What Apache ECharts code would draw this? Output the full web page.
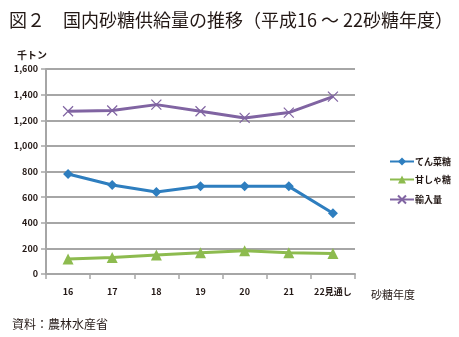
<!DOCTYPE html>
<html><head><meta charset="utf-8">
<script src="https://cdn.jsdelivr.net/npm/echarts@6/dist/echarts.min.js"></script>
<style>html,body{margin:0;padding:0;background:#fff}#c{width:459px;height:337px}</style>
</head><body><div id="c"></div>
<script>
const categories = ['16','17','18','19','20','21','22見通し'];
const tensai = [780, 695, 640, 684, 684, 684, 474];
const kansha = [118, 128, 148, 166, 182, 166, 160];
const yunyu = [1270, 1276, 1322, 1270, 1218, 1260, 1384];
const seriesNames = ['てん菜糖', '甘しゃ糖', '輸入量'];
const yTicks = [0, 200, 400, 600, 800, 1000, 1200, 1400, 1600];

const font = '"Noto Sans CJK JP", sans-serif';
const chart = echarts.init(document.getElementById('c'));
chart.setOption({
  animation: false,
  textStyle: { fontFamily: font },
  title: [
    { text: '図２　国内砂糖供給量の推移（平成16 ～ 22砂糖年度）', left: 4, top: 6,
      textStyle: { fontSize: 18, fontWeight: 'normal', color: '#231815', fontFamily: font } },
    { text: '千トン', left: 12, top: 45, textStyle: { fontSize: 10, fontWeight: 'bold', color: '#231815', fontFamily: font } },
    { text: '砂糖年度', left: 366, top: 284, textStyle: { fontSize: 11, fontWeight: 'normal', color: '#231815', fontFamily: font } },
    { text: '資料：農林水産省', left: 7, top: 313, textStyle: { fontSize: 12, fontWeight: 'normal', color: '#231815', fontFamily: font } }
  ],
  legend: {
    orient: 'vertical', left: 384, top: 152, itemGap: 9, itemWidth: 24, itemHeight: 10,
    data: seriesNames,
    textStyle: { fontSize: 9, fontWeight: 'bold', color: '#231815', padding: [0,0,0,-4] }
  },
  grid: { left: 46, top: 69, width: 309, height: 205 },
  xAxis: {
    type: 'category', data: categories, boundaryGap: true,
    axisLine: { lineStyle: { color: '#a6a6a6', width: 2 } },
    axisTick: { show: true, length: 5, interval: 0, lineStyle: { color: '#a6a6a6', width: 1.5 }, alignWithLabel: false },
    axisLabel: { interval: 0, fontSize: 9, fontWeight: 'bold', color: '#231815', margin: 13 }
  },
  yAxis: {
    type: 'value', min: 0, max: 1600, interval: 200,
    axisLine: { show: true, lineStyle: { color: '#a6a6a6', width: 2 } },
    axisTick: { show: true, length: 5, lineStyle: { color: '#a6a6a6', width: 1.5 } },
    splitLine: { lineStyle: { color: '#a6a6a6', width: 2 } },
    axisLabel: { fontSize: 9, fontWeight: 'bold', color: '#231815', margin: 8,
      formatter: v => yTicks.includes(v) ? v.toLocaleString('en-US') : '' }
  },
  series: [
    { name: seriesNames[0], type: 'line', data: tensai, symbol: 'diamond', symbolSize: 10,
      lineStyle: { color: '#2e7ebf', width: 3 }, itemStyle: { color: '#2e7ebf' } },
    { name: seriesNames[1], type: 'line', data: kansha, symbol: 'triangle', symbolSize: 11,
      lineStyle: { color: '#8dbb4f', width: 3 }, itemStyle: { color: '#8dbb4f' } },
    { name: seriesNames[2], type: 'line', data: yunyu,
      symbol: 'path://M0,0 L10,10 M10,0 L0,10', symbolSize: 10,
      lineStyle: { color: '#8064a2', width: 3 }, itemStyle: { color: 'none', borderColor: '#8064a2', borderWidth: 1.2 } }
  ]
});
</script></body></html>
